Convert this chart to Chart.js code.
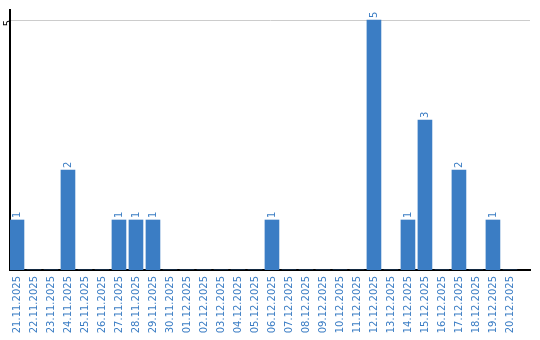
<!DOCTYPE html>
<html>
<head>
<meta charset="utf-8">
<script src="https://cdn.jsdelivr.net/npm/chart.js@4.4.1/dist/chart.umd.min.js"></script>
<style>
  html, body { margin: 0; padding: 0; background: #fff; }
  #wrap { width: 540px; height: 340px; }
</style>
</head>
<body>
<div id="wrap"><canvas id="chart"></canvas></div>
<script>
/* data */
const dates = [
  "21.11.2025", "22.11.2025", "23.11.2025", "24.11.2025", "25.11.2025",
  "26.11.2025", "27.11.2025", "28.11.2025", "29.11.2025", "30.11.2025",
  "01.12.2025", "02.12.2025", "03.12.2025", "04.12.2025", "05.12.2025",
  "06.12.2025", "07.12.2025", "08.12.2025", "09.12.2025", "10.12.2025",
  "11.12.2025", "12.12.2025", "13.12.2025", "14.12.2025", "15.12.2025",
  "16.12.2025", "17.12.2025", "18.12.2025", "19.12.2025", "20.12.2025"
];
const counts = [
  1, 0, 0, 2, 0, 0, 1, 1, 1, 0,
  0, 0, 0, 0, 0, 1, 0, 0, 0, 0,
  0, 5, 0, 1, 3, 0, 2, 0, 1, 0
];
const yTicks = [5];

const BLUE = "#3b7dc4";
const FONT = "'DejaVu Sans', Verdana, sans-serif";

/* value labels above the bars */
const valueLabels = {
  id: "valueLabels",
  afterDatasetsDraw(chart) {
    const ctx = chart.ctx;
    const meta = chart.getDatasetMeta(0);
    ctx.save();
    ctx.font = "10px " + FONT;
    ctx.fillStyle = BLUE;
    ctx.textAlign = "left";
    ctx.textBaseline = "middle";
    meta.data.forEach((bar, i) => {
      if (!counts[i]) return;
      ctx.save();
      ctx.translate(bar.x, bar.y - 2);
      ctx.rotate(-Math.PI / 2);
      ctx.fillText(String(counts[i]), 0, 0);
      ctx.restore();
    });
    ctx.restore();
  }
};

new Chart(document.getElementById("chart"), {
  type: "bar",
  data: {
    datasets: [{
      data: counts.map((v, i) => ({ x: i, y: v })),
      backgroundColor: BLUE,
      barThickness: 14
    }]
  },
  options: {
    responsive: true,
    maintainAspectRatio: false,
    animation: false,
    layout: { padding: { top: 10, right: 10, left: 0, bottom: 0 } },
    plugins: { legend: { display: false }, tooltip: { enabled: false } },
    scales: {
      x: {
        type: "linear",
        offset: false,
        min: -0.41,
        max: 30.18,
        afterBuildTicks: s => { s.ticks = dates.map((d, i) => ({ value: i })); },
        afterFit: s => { s.height = 70; },
        grid: { display: false, drawTicks: false },
        border: { color: "#000", width: 2 },
        ticks: {
          autoSkip: false,
          minRotation: 90,
          maxRotation: 90,
          padding: 6,
          color: BLUE,
          font: { family: FONT, size: 10 },
          callback: v => dates[v] || ""
        }
      },
      y: {
        min: 0,
        max: 5.2,
        afterBuildTicks: s => { s.ticks = yTicks.map(v => ({ value: v })); },
        afterFit: s => { s.width = 10; },
        grid: { color: "#cccccc", drawTicks: false },
        border: { color: "#000", width: 2 },
        ticks: {
          minRotation: 90,
          maxRotation: 90,
          padding: 2,
          color: "#000",
          font: { family: FONT, size: 10 }
        }
      }
    }
  },
  plugins: [valueLabels]
});
</script>
</body>
</html>
